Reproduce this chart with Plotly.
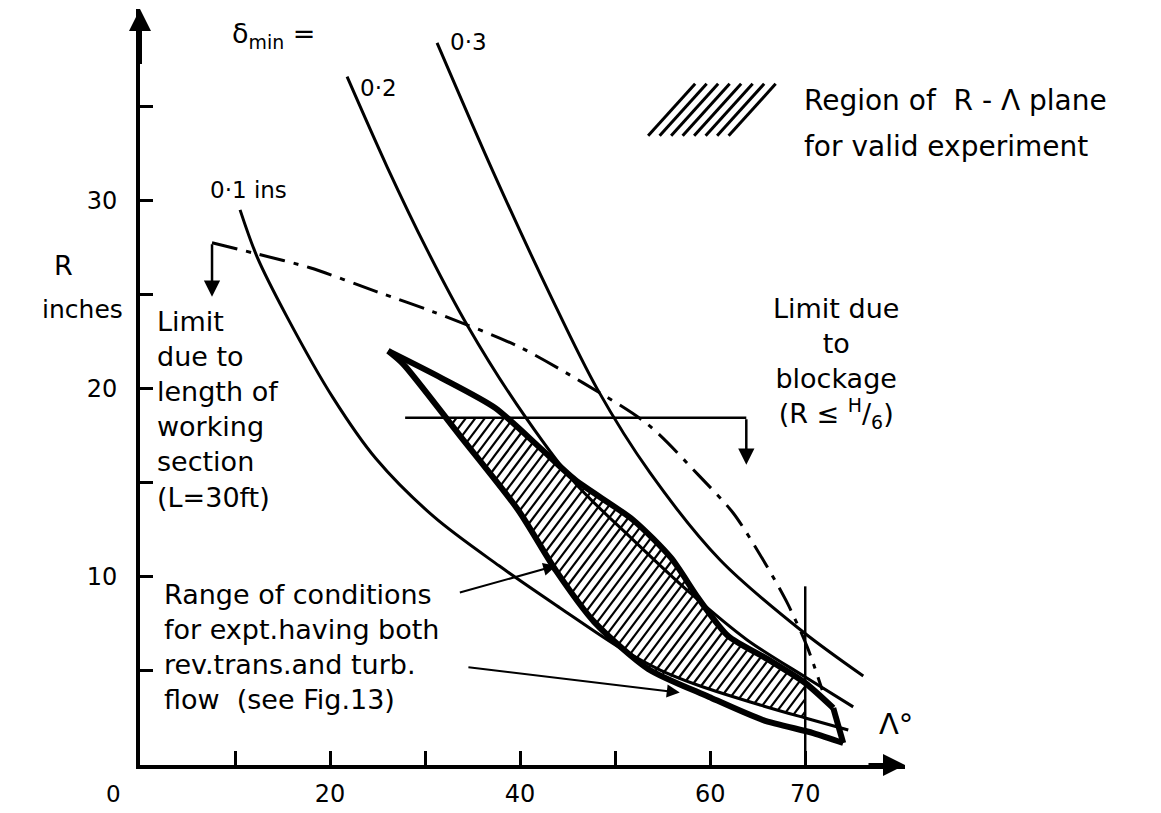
import math
import plotly.graph_objects as go

FONT = "DejaVu Sans"

# ---------------- data (Lambda in degrees, R in inches) -------------
d01_lam = [10.53, 12.32, 15.47, 20.32, 24.84, 30.95, 37.79, 44.21, 50.53, 54.74, 58.95, 65.26, 70.0, 74.53]
d01_R = [29.52, 27.02, 23.83, 19.52, 16.28, 13.19, 10.59, 8.35, 6.22, 5.05, 4.20, 3.19, 2.50, 1.86]

d02_lam = [21.79, 26.0, 30.21, 34.42, 39.68, 45.79, 51.89, 57.89, 63.89, 70.0, 75.05]
d02_R = [36.60, 31.81, 27.39, 23.40, 19.15, 15.0, 11.97, 9.15, 6.65, 4.68, 3.09]

d03_lam = [31.26, 37.16, 43.16, 48.11, 53.68, 61.05, 69.79, 76.11]
d03_R = [38.40, 31.54, 25.00, 20.0, 15.53, 10.90, 7.07, 4.73]

# limit due to length of working section (dash-dot)
len_lam = [7.58, 11.89, 17.89, 24.95, 30.84, 39.68, 46.63, 53.37, 58.95, 62.42, 65.58, 68.11, 70.21, 71.79]
len_R = [27.77, 27.23, 26.44, 25.16, 24.10, 22.29, 20.32, 18.14, 15.32, 13.40, 10.90, 8.62, 6.28, 3.99]
len_arrow_R = 24.9

# range of conditions (thick outline)
env_upper_lam = [26.11, 31.68, 37.37, 42.21, 45.79, 51.89, 55.89, 58.74, 61.89, 66.0, 70.0, 72.95]
env_upper_R = [22.02, 20.59, 18.99, 16.81, 15.16, 13.03, 11.01, 8.88, 6.86, 5.64, 4.36, 3.03]
env_end_lam = [72.95, 74.0]
env_end_R = [3.03, 1.17]
env_lower_lam = [74.0, 70.84, 65.58, 59.89, 53.47, 47.79, 43.79, 39.79, 33.68, 27.68, 26.11]
env_lower_R = [1.17, 1.70, 2.39, 3.62, 5.11, 7.61, 10.32, 13.56, 17.50, 21.33, 22.02]

# region valid for experiment (hatched)
valid_lam = [32.2, 38.5, 42.21, 45.79, 51.89, 55.89, 58.74, 61.89, 66.0, 70.0, 70.0, 65.26,
             58.95, 53.47, 47.79, 43.79, 39.79, 33.68, 32.2]
valid_R = [18.46, 18.46, 16.81, 15.16, 13.03, 11.01, 8.88, 6.86, 5.64, 4.36, 2.50, 3.19,
           4.20, 5.11, 7.61, 10.32, 13.56, 17.50, 18.46]

# blockage limit R <= H/6
block_R = 18.46
block_lam = [27.9, 63.8]
block_arrow_R = 15.96

# sweep limit
sweep_lam = 70.0
sweep_R = [0.0, 9.5]

# axes
x_ticks = [10, 20, 30, 40, 50, 60, 70]
x_ticktext = ["", "20", "", "40", "", "60", "70"]
y_ticks = [5, 10, 15, 20, 25, 30, 35]
y_ticktext = ["", "10", "", "20", "", "30", ""]
x_max = 80.5
y_max = 40.2

# legend swatch (8 hatch strokes)
sw_start_lam, sw_start_R = 53.47, 33.46
sw_end_lam, sw_end_R = 58.42, 36.22
sw_step = 1.21
sw_count = 8

# ---------------- layout geometry ----------------
W, H = 1161, 813
ML, MR, MT, MB = 140, 256, 9.24, 48
plot_w = W - ML - MR
plot_h = H - MT - MB


def hatch_segments(lam, R, spacing_px=9.5, angle_deg=53):
    kx = plot_w / x_max
    ky = plot_h / y_max
    P = [(a * kx, b * ky) for a, b in zip(lam, R)]
    m = math.tan(math.radians(angle_deg))
    cs = [y - m * x for x, y in P]
    c0, c1 = min(cs), max(cs)
    step = m * spacing_px
    xs, ys = [], []
    c = c0 + step * 0.5
    while c < c1:
        pts = []
        for i in range(len(P) - 1):
            (x1, y1), (x2, y2) = P[i], P[i + 1]
            f1 = y1 - m * x1 - c
            f2 = y2 - m * x2 - c
            if (f1 > 0) != (f2 > 0):
                t = f1 / (f1 - f2)
                pts.append(x1 + t * (x2 - x1))
        pts.sort()
        for j in range(0, len(pts) - 1, 2):
            xa, xb = pts[j], pts[j + 1]
            xs += [xa / kx, xb / kx, None]
            ys += [(m * xa + c) / ky, (m * xb + c) / ky, None]
        c += step
    return xs, ys


fig = go.Figure()

hx, hy = hatch_segments(valid_lam, valid_R)
fig.add_trace(go.Scatter(x=hx, y=hy, mode="lines", line=dict(color="black", width=2.2),
                         hoverinfo="skip", showlegend=False))

for lam, R in [(d01_lam, d01_R), (d02_lam, d02_R), (d03_lam, d03_R)]:
    fig.add_trace(go.Scatter(x=lam, y=R, mode="lines",
                             line=dict(color="black", width=3, shape="spline", smoothing=0.9),
                             hoverinfo="skip", showlegend=False))

fig.add_trace(go.Scatter(x=len_lam, y=len_R, mode="lines",
                         line=dict(color="black", width=3, shape="spline", smoothing=0.8,
                                   dash="26px,9px,5px,9px"),
                         hoverinfo="skip", showlegend=False))

fig.add_trace(go.Scatter(x=env_upper_lam, y=env_upper_R, mode="lines",
                         line=dict(color="black", width=6, shape="spline", smoothing=0.7),
                         hoverinfo="skip", showlegend=False))
fig.add_trace(go.Scatter(x=env_end_lam, y=env_end_R, mode="lines",
                         line=dict(color="black", width=6),
                         hoverinfo="skip", showlegend=False))
fig.add_trace(go.Scatter(x=env_lower_lam, y=env_lower_R, mode="lines",
                         line=dict(color="black", width=6, shape="spline", smoothing=0.7),
                         hoverinfo="skip", showlegend=False))

fig.add_trace(go.Scatter(x=block_lam, y=[block_R, block_R], mode="lines",
                         line=dict(color="black", width=2.5), hoverinfo="skip", showlegend=False))
fig.add_trace(go.Scatter(x=[sweep_lam, sweep_lam], y=sweep_R, mode="lines",
                         line=dict(color="black", width=2.5), hoverinfo="skip", showlegend=False))

sx, sy = [], []
for k in range(sw_count):
    sx += [sw_start_lam + k * sw_step, sw_end_lam + k * sw_step, None]
    sy += [sw_start_R, sw_end_R, None]
fig.add_trace(go.Scatter(x=sx, y=sy, mode="lines", line=dict(color="black", width=3),
                         hoverinfo="skip", showlegend=False))


def arrow(x, y, ax, ay, w=2.5, size=1.3):
    fig.add_annotation(x=x, y=y, ax=ax, ay=ay, xref="x", yref="y", axref="x", ayref="y",
                       text="", showarrow=True, arrowhead=2, arrowsize=size,
                       arrowwidth=w, arrowcolor="black", standoff=0)


arrow(x_max, 0, x_max - 4, 0, w=4, size=1.1)
arrow(0, y_max, 0, y_max - 3, w=4, size=1.1)
arrow(len_lam[0], len_arrow_R, len_lam[0], len_R[0])
arrow(block_lam[1], block_arrow_R, block_lam[1], block_R)
arrow(43.8, 10.6, 33.5, 9.15, w=2)
arrow(56.8, 3.85, 34.4, 5.21, w=2)


def label(x, y, text, size=27, xanchor="center", align="center", ref="x"):
    fig.add_annotation(x=x, y=y, xref=ref if ref == "x" else "paper",
                       yref="y" if ref == "x" else "paper", text=text, showarrow=False,
                       xanchor=xanchor, yanchor="middle", align=align,
                       font=dict(family=FONT, size=size, color="black"))


def px_label(px, py, text, size=27):
    label((px - ML) / plot_w, (H - MB - py) / plot_h, text, size, ref="paper")


label(14.0, 38.78, "δ<sub>min</sub> =", 27)
label(25.05, 36.0, "0·2", 23)
label(34.6, 38.46, "0·3", 23)
label(11.37, 30.59, "0·1 ins", 23)
px_label(63, 266, "R", 27)
px_label(82, 310, "inches", 25)
px_label(113, 794, "0", 23)
label(1.58, 18.88, "Limit<br>due to<br>length of<br>working<br>section<br>(L=30ft)", 27,
      xanchor="left", align="left")
label(2.32, 6.28, "Range of conditions<br>for expt.having both<br>rev.trans.and turb.<br>flow  (see Fig.13)",
      27, xanchor="left", align="left")
label(73.26, 21.38, "Limit due<br>to<br>blockage<br>(R ≤ <sup>H</sup>/<sub>6</sub>)", 27)
label(69.68, 35.32, "Region of  R - Λ plane", 28, xanchor="left", align="left")
label(69.68, 32.87, "for valid experiment", 28, xanchor="left", align="left")
label(79.6, 2.18, "Λ°", 29)

axis_font = dict(family=FONT, size=24, color="black")
fig.update_layout(
    width=W, height=H,
    margin=dict(l=ML, r=MR, t=MT, b=MB),
    paper_bgcolor="white", plot_bgcolor="white", showlegend=False,
    xaxis=dict(range=[0, x_max], showline=True, linewidth=4, linecolor="black",
               ticks="inside", ticklen=14, tickwidth=2.5, tickcolor="black",
               tickmode="array", tickvals=x_ticks, ticktext=x_ticktext, tickfont=axis_font,
               showgrid=False, zeroline=False, ticklabelstandoff=4, automargin=False),
    yaxis=dict(range=[0, y_max], showline=True, linewidth=4, linecolor="black",
               ticks="inside", ticklen=13, tickwidth=2.5, tickcolor="black",
               tickmode="array", tickvals=y_ticks, ticktext=y_ticktext, tickfont=axis_font,
               showgrid=False, zeroline=False, ticklabelstandoff=14, automargin=False),
)

fig.write_html("out.html", config={"displayModeBar": False},
               post_script="document.body.style.margin='0';document.body.style.overflow='hidden';")
